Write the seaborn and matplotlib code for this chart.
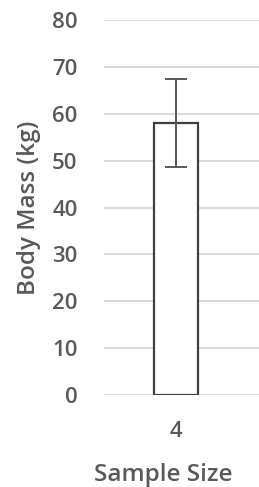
import matplotlib
matplotlib.use("Agg")
import matplotlib.pyplot as plt
import seaborn as sns
import pandas as pd

categories = ["4"]
means = [58.0]
errors = [9.4]
yticks = [0, 10, 20, 30, 40, 50, 60, 70, 80]

sns.set_theme(style="white")
plt.rcParams['font.family'] = ['Open Sans', 'DejaVu Sans']

df = pd.DataFrame({"Sample Size": categories, "Body Mass (kg)": means})

fig = plt.figure(figsize=(2.59, 4.87), dpi=100)
ax = fig.add_axes([104/259, 1-395/487, 1-104/259, (395-20)/487])

sns.barplot(data=df, x="Sample Size", y="Body Mass (kg)", ax=ax,
            color="white", edgecolor="#404040", linewidth=1.6,
            width=0.305, errorbar=None, zorder=3)
ax.errorbar(range(len(categories)), means, yerr=errors, fmt="none",
            ecolor="#595959", elinewidth=1.4, capsize=8, capthick=1.4, zorder=4)

ax.set_ylim(0, 80)
ax.set_xlim(-0.5, 0.576)
ax.set_yticks(yticks)
ax.yaxis.grid(True, color="#d9d9d9", linewidth=1.4, zorder=0)
ax.set_axisbelow(True)
for s in ax.spines.values():
    s.set_visible(False)
tfs = 16
lfs = 17.5
txt = "#595959"
ax.tick_params(axis="y", length=0, pad=19, labelsize=tfs, labelcolor=txt)
ax.tick_params(axis="x", length=0, pad=19, labelsize=tfs, labelcolor=txt)
for lab in ax.get_yticklabels() + ax.get_xticklabels():
    lab.set_fontweight("semibold")
ax.set_ylabel("Body Mass (kg)", fontsize=lfs, color=txt, fontweight="semibold")
ax.set_xlabel("Sample Size", fontsize=lfs, color=txt, fontweight="semibold", labelpad=15)
ax.yaxis.set_label_coords((41 - 104) / 155, 0.5)
ax.yaxis.label.set_verticalalignment("bottom")
ax.xaxis.label.set_x((163 - 104) / 155)

fig.savefig("out.png", dpi=100)
